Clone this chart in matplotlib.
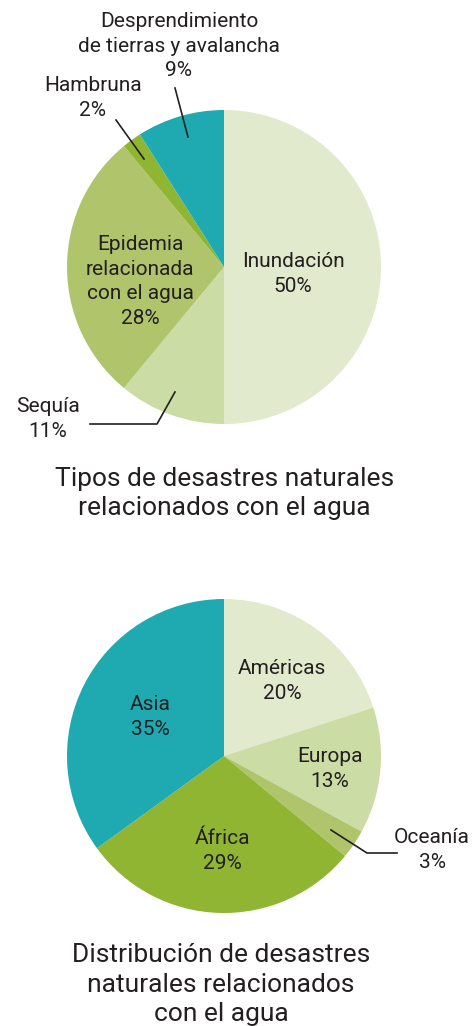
import matplotlib.pyplot as plt

# tipos de desastres
tipos = ["Inundación", "Sequía", "Epidemia\nrelacionada\ncon el agua", "Hambruna",
         "Desprendimiento\nde tierras y avalancha"]
tipos_pct = [50, 11, 28, 2, 9]

# distribución por región
regiones = ["Américas", "Europa", "Oceanía", "África", "Asia"]
regiones_pct = [20, 13, 3, 29, 35]

colores = ["#e1eacd", "#ccdca5", "#afc46b", "#8fb533", "#1faab2"]
txt = "#231f20"

plt.rcParams['font.family'] = ['Roboto', 'DejaVu Sans']

fig = plt.figure(figsize=(4.75, 10.26), dpi=100)
ax = fig.add_axes([0, 0, 1, 1])
ax.set_xlim(0, 475)
ax.set_ylim(0, 1026)
ax.set_aspect('equal')
ax.axis('off')

H = 1026


def lineas(x, y0, texto, paso, size):
    # one text per line, y0 = baseline of first line (pixels from top)
    for i, t in enumerate(texto.split("\n")):
        ax.text(x, H - (y0 + i * paso), t, ha='center', va='baseline',
                fontsize=size, color=txt)


def etiqueta(x, y0, nombre, pct):
    lineas(x, y0, nombre + "\n%d%%" % pct, 24.6, 15)


# pie 1
ax.pie(tipos_pct, colors=colores, startangle=90, counterclock=False,
       center=(224, H - 267), radius=157, frame=True)

etiqueta(293, 267, tipos[0], tipos_pct[0])
etiqueta(48, 412, tipos[1], tipos_pct[1])
etiqueta(140, 250, tipos[2], tipos_pct[2])
etiqueta(93, 91, tipos[3], tipos_pct[3])
etiqueta(179, 27, tipos[4], tipos_pct[4])

# leader lines
ax.plot([175, 188], [H - 88, H - 137], color=txt, lw=1.2)
ax.plot([116, 144], [H - 120, H - 159], color=txt, lw=1.2)
ax.plot([90, 157, 175], [H - 424, H - 424, H - 392], color=txt, lw=1.2)

lineas(224.5, 486, "Tipos de desastres naturales\nrelacionados con el agua", 29.5, 19)

# pie 2
ax.pie(regiones_pct, colors=colores, startangle=90, counterclock=False,
       center=(224, H - 756), radius=157, frame=True)

etiqueta(282, 674, regiones[0], regiones_pct[0])
etiqueta(330, 762, regiones[1], regiones_pct[1])
etiqueta(432, 843, regiones[2], regiones_pct[2])
etiqueta(222, 844, regiones[3], regiones_pct[3])
etiqueta(150, 710, regiones[4], regiones_pct[4])

ax.plot([331, 367, 397], [H - 830, H - 853, H - 853], color=txt, lw=1.2)

lineas(221, 962, "Distribución de desastres\nnaturales relacionados\ncon el agua", 29.5, 19)

ax.set_xlim(0, 475)
ax.set_ylim(0, 1026)
ax.axis('off')

fig.savefig("out.png", dpi=100)
